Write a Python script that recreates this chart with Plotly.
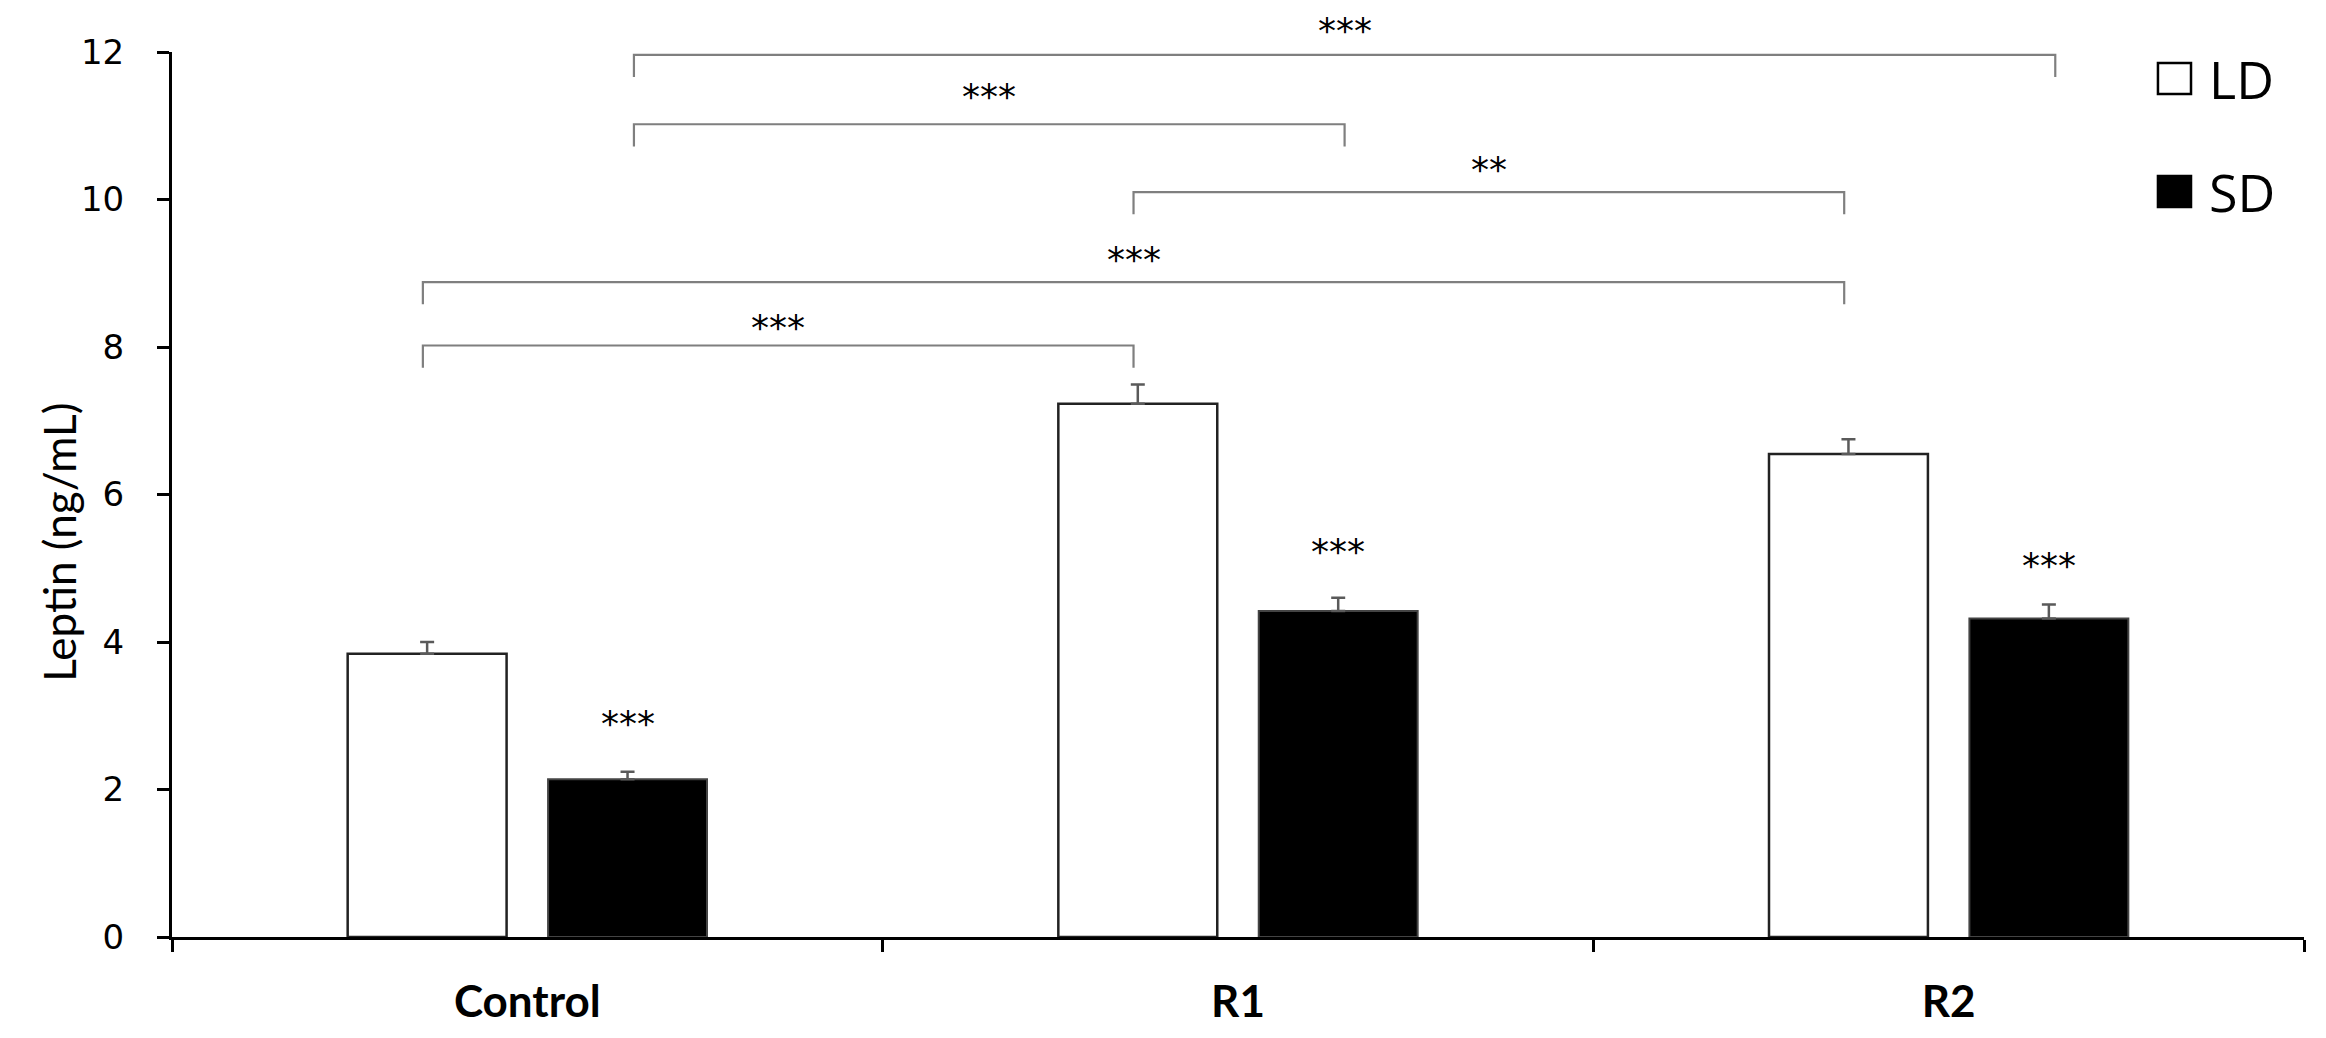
import plotly.graph_objects as go

categories = ["Control", "R1", "R2"]
series = ["LD", "SD"]
ld_values = [3.84, 7.23, 6.55]
ld_errors = [0.16, 0.26, 0.20]
sd_values = [2.14, 4.42, 4.32]
sd_errors = [0.10, 0.18, 0.19]
sd_marks = ["***", "***", "***"]
sd_mark_y = [2.96, 5.30, 5.10]

# significance brackets between bars (group index + series)
br_from_group = [0, 0, 1, 0, 0]
br_from_series = ["LD", "LD", "LD", "SD", "SD"]
br_to_group = [1, 2, 2, 1, 2]
br_to_series = ["LD", "LD", "LD", "SD", "SD"]
br_y = [8.02, 8.88, 10.1, 11.02, 11.96]
br_labels = ["***", "***", "**", "***", "***"]
br_label_y = [8.33, 9.25, 10.47, 11.46, 12.36]

offset = {"LD": -0.147, "SD": 0.15}
star_font = dict(family="DejaVu Sans", size=36, color="black")
plot_h = 1030 - 44 - 92
px_per_unit = plot_h / 12

fig = go.Figure()
fig.add_trace(go.Bar(
    x=categories, y=ld_values, name="LD",
    marker=dict(color="white", line=dict(color="#222222", width=2.5)),
    error_y=dict(type="data", array=ld_errors, arrayminus=[0] * 3,
                 color="#5a5a5a", thickness=2.5, width=7),
))
fig.add_trace(go.Bar(
    x=categories, y=sd_values, name="SD",
    marker=dict(color="black", line=dict(color="#444444", width=2)),
    error_y=dict(type="data", array=sd_errors, arrayminus=[0] * 3,
                 color="#5a5a5a", thickness=2.5, width=7),
))

for i, (m, y) in enumerate(zip(sd_marks, sd_mark_y)):
    fig.add_annotation(x=i + 0.141, y=y, text=m, showarrow=False,
                       font=star_font, yanchor="middle", yshift=-5)

drop = 0.3
for g0, s0, g1, s1, y, lab, ly in zip(br_from_group, br_from_series, br_to_group,
                                      br_to_series, br_y, br_labels, br_label_y):
    x0 = g0 + offset[s0]
    x1 = g1 + offset[s1]
    fig.add_shape(type="path",
                  path=f"M {x0} {y - drop} L {x0} {y} L {x1} {y} L {x1} {y - drop}",
                  line=dict(color="#7f7f7f", width=2.2))
    # anchor on the bracket (inside the axis range) and shift up to the label
    fig.add_annotation(x=(x0 + x1) / 2, y=y, text=lab, showarrow=False,
                       font=star_font, yanchor="middle",
                       yshift=(ly - y) * px_per_unit - 5)

# legend drawn by hand so the swatches can be large
legend_y = [0.9701, 0.8425]
legend_fill = ["white", "black"]
for name, ly, fill in zip(series, legend_y, legend_fill):
    fig.add_shape(type="rect", xref="paper", yref="paper",
                  x0=0.9315, x1=0.9470, y0=ly - 0.0175, y1=ly + 0.0175,
                  fillcolor=fill, line=dict(color="black", width=2.5))
    fig.add_annotation(xref="paper", yref="paper", x=0.9545, y=ly, text=name,
                       showarrow=False, xanchor="left", yanchor="middle",
                       font=dict(family="Open Sans", size=52, color="black"))

fig.add_annotation(xref="paper", yref="paper", x=-0.053, y=0.4456,
                   text="Leptin (ng/mL)", textangle=-90, showarrow=False,
                   xanchor="center", yanchor="middle",
                   font=dict(family="Lato", size=44, color="black"))

# the page adds an 8px body margin, so shrink the figure by that much
fig.update_layout(
    width=2318, height=1030,
    margin=dict(l=164, r=22, t=44, b=92),
    plot_bgcolor="white", paper_bgcolor="white",
    barmode="group", bargap=0.436, bargroupgap=0.207,
    showlegend=False,
)
fig.update_xaxes(
    tickvals=categories, ticktext=[f"<b>{c}</b>" for c in categories],
    tickfont=dict(family="Lato", size=44, color="black"),
    showline=True, linecolor="black", linewidth=3,
    ticks="outside", tickson="boundaries", ticklen=12, tickwidth=3,
    tickcolor="black", ticklabelstandoff=24, showgrid=False,
    range=[-0.5, 2.5],
)
fig.update_yaxes(
    range=[0, 12], dtick=2, tick0=0,
    tickfont=dict(family="DejaVu Sans", size=34, color="black"),
    showline=True, linecolor="black", linewidth=3,
    ticks="outside", ticklen=12, tickwidth=3, tickcolor="black",
    ticklabelstandoff=26, showgrid=False, zeroline=False,
)

fig.write_html("out.html")
